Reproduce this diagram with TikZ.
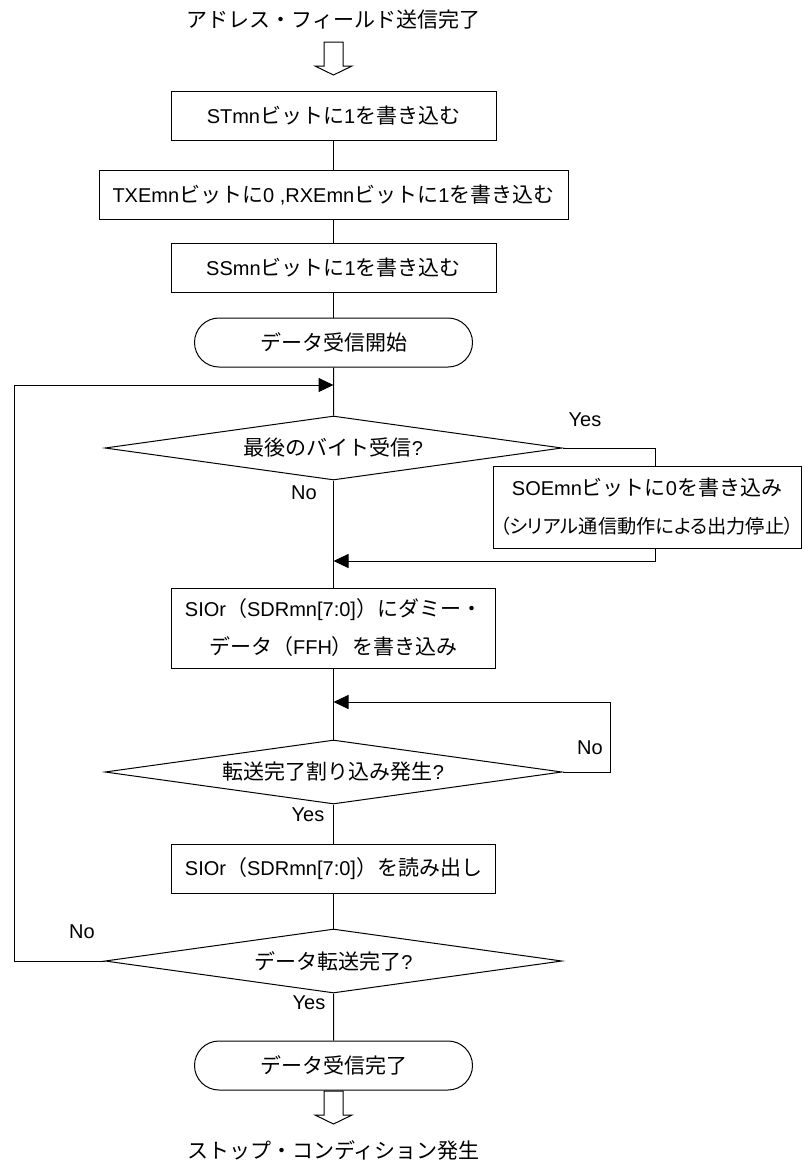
\documentclass[tikz,border=0pt]{standalone}
\usepackage{fontspec}
\setmainfont{Liberation Sans}
\newfontfamily\ja[Scale=1.05]{Noto Sans CJK JP}
\newfontfamily\jap[Scale=1.05, RawFeature=+palt]{Noto Sans CJK JP}
\usepackage{tikz}
\usetikzlibrary{shapes.geometric, shapes.misc, positioning, arrows.meta}

\begin{document}
\begin{tikzpicture}[x=1pt, y=-1pt, line width=1pt,
    >={Triangle[length=15pt,width=14pt]},
    font=\fontsize{20pt}{38pt}\selectfont,
    proc/.style={draw, rectangle, minimum height=49pt, inner sep=0pt, align=center},
    term/.style={draw, rounded rectangle, minimum width=278pt, minimum height=49pt, inner sep=0pt},
    decide/.style={draw, diamond, aspect=7, minimum width=457pt, minimum height=64pt, inner sep=0pt},
    hollow/.pic={\draw (-9.5,0) -- (9.5,0) -- (9.5,24) -- (18.5,24) -- (0,33) -- (-18.5,24) -- (-9.5,24) -- cycle;}]

        \useasboundingbox (0,0) rectangle (804,1160);

        \node (hdr) at (333.5,20) {\ja アドレス・フィールド送信完了};
        \pic at (333.5,42) {hollow};

        \node[proc, minimum width=325pt] (b1) at (333.5,115.5) {STmn{\ja ビットに}1{\ja を書き込む}};
        \node[proc, minimum width=469pt] (b2) [below=29pt of b1] {TXEmn{\ja ビットに}0 ,RXEmn{\ja ビットに}1{\ja を書き込む}};
        \node[proc, minimum width=325pt] (b3) [below=23pt of b2] {SSmn{\ja ビットに}1{\ja を書き込む}};
        \node[term] (t1) [below=25pt of b3] {\ja データ受信開始};

        \node[decide] (d1) [below=48pt of t1] {{\ja 最後のバイト受信}?};
        \node[proc, text width=308pt, minimum height=82pt] (soe) at (647,507)
            {SOEmn{\ja ビットに}0{\ja を書き込み}\\{\fontsize{18.3pt}{38pt}\selectfont\jap （シリアル通信動作による出力停止）}};

        \node[proc, minimum width=324pt, minimum height=80pt] (sio) [below=107pt of d1]
            {SIOr{\ja （}SDRmn[7:0]{\ja ）にダミー・}\\{\ja データ（}FFH{\ja ）を書き込み}};
        \node[decide] (d2) [below=71pt of sio] {{\ja 転送完了割り込み発生}?};
        \node[proc, minimum width=324pt] (rd) [below=39pt of d2] {SIOr{\ja （}SDRmn[7:0]{\ja ）を読み出し}};
        \node[decide] (d3) [below=35pt of rd] {{\ja データ転送完了}?};
        \node[term] (t2) [below=47pt of d3] {\ja データ受信完了};

        \pic at (333.5,1091) {hollow};
        \node (ftr) at (333.5,1150) {\ja ストップ・コンディション発生};

        % branch labels
        \node (yes1) at (585,420) {Yes};
        \node (no1) at (304,493) {No};
        \node (no2) at (590,748) {No};
        \node (yes2) at (308,815) {Yes};
        \node (no3) at (82,932) {No};
        \node (yes3) at (309,1003) {Yes};

        \coordinate (j1) at (333.5,561);
        \coordinate (j2) at (333.5,702);
        \coordinate (c2) at (610,702);
        \coordinate (j3) at (333.5,385);
        \coordinate (c3) at (14,385);

        \path
        (b1) edge (b2)
        (b2) edge (b3)
        (b3) edge (t1)
        (t1) edge (d1)
        (d1) edge (sio)
        (sio) edge (d2)
        (d2) edge (rd)
        (rd) edge (d3)
        (d3) edge (t2);

        \draw (d1.east) -| ([xshift=8pt]soe.north);
        \draw[->] ([xshift=8pt]soe.south) |- (j1);
        \draw[->] (d2.east) -| (c2) -- (j2);
        \draw[->] (d3.west) -| (c3) -- (j3);

\end{tikzpicture}
\end{document}
